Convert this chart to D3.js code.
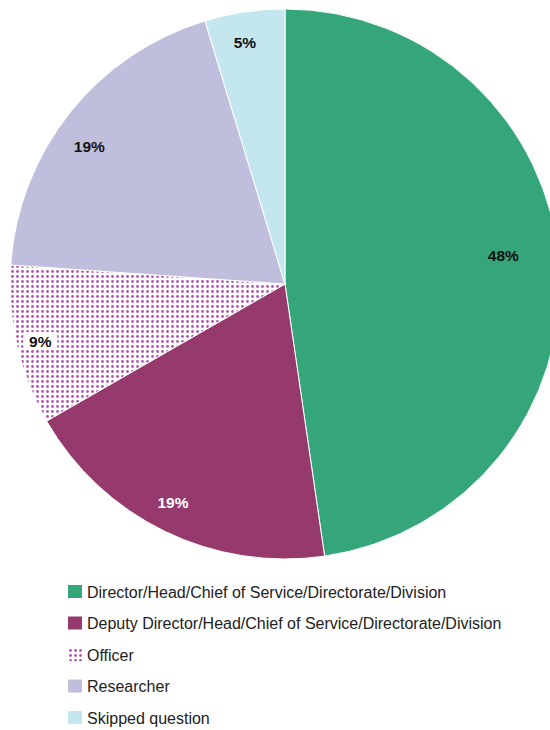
<!DOCTYPE html>
<html>
<head>
<meta charset="utf-8">
<script src="https://cdn.jsdelivr.net/npm/d3@7"></script>
<style>
  body { margin: 0; background: #fff; font-family: "Liberation Sans", Arial, sans-serif; }
</style>
</head>
<body>
<div id="chart"></div>
<script>
// data (shares, labels as printed)
const categories = [
  "Director/Head/Chief of Service/Directorate/Division",
  "Deputy Director/Head/Chief of Service/Directorate/Division",
  "Officer",
  "Researcher",
  "Skipped question"
];
const values = [47.7, 19.0, 9.4, 19.2, 4.7];
const labels = ["48%", "19%", "9%", "19%", "5%"];

const colors = ["#35a57a", "#963a6e", "url(#dots)", "#c0bedd", "#c3e6ef"];
const labelColors = ["#111", "#fff", "#111", "#111", "#111"];

const width = 550, height = 730;
const cx = 285, cy = 284, radius = 275;

const svg = d3.select("#chart").append("svg")
  .attr("width", width).attr("height", height);

// dotted pattern for Officer
const defs = svg.append("defs");
const pat = defs.append("pattern")
  .attr("id", "dots")
  .attr("patternUnits", "userSpaceOnUse")
  .attr("width", 5).attr("height", 5);
pat.append("rect").attr("width", 5).attr("height", 5).attr("fill", "#fff");
pat.append("circle").attr("cx", 2.5).attr("cy", 2.5).attr("r", 1.4).attr("fill", "#b155b1");

const data = categories.map((c, i) => ({ name: c, value: values[i], label: labels[i], i: i }));

const pie = d3.pie().sort(null).value(d => d.value);
const arc = d3.arc().innerRadius(0).outerRadius(radius);
const labelArc = d3.arc().innerRadius(245).outerRadius(245);

const g = svg.append("g").attr("transform", `translate(${cx},${cy})`);

g.selectAll(".slice")
  .data(pie(data))
  .enter()
  .append("path")
  .attr("class", "slice")
  .attr("d", arc)
  .attr("fill", d => colors[d.data.i])
  .attr("stroke", "#fff")
  .attr("stroke-width", 1);

// small label shifts, like the original's best-fit placement
const nudge = { 0: [-26, -11], 1: [-5, -2], 2: [-6, 2], 3: [-4, 15], 4: [-4, 1] };

const lab = g.selectAll(".lab")
  .data(pie(data))
  .enter()
  .append("g")
  .attr("class", "lab")
  .attr("transform", d => {
    const p = labelArc.centroid(d);
    const n = nudge[d.data.i] || [0, 0];
    return `translate(${p[0] + n[0]},${p[1] + n[1]})`;
  });

lab.filter(d => d.data.i === 2)
  .append("rect")
  .attr("x", -17).attr("y", -9).attr("width", 34).attr("height", 18)
  .attr("fill", "#fff");

lab.append("text")
  .attr("text-anchor", "middle")
  .attr("dy", "0.36em")
  .style("font-size", "15.5px")
  .style("font-weight", "bold")
  .style("fill", d => labelColors[d.data.i])
  .text(d => d.data.label);

// legend
const legend = svg.append("g").attr("transform", "translate(68,585)");
const rows = legend.selectAll(".row")
  .data(data)
  .enter()
  .append("g")
  .attr("class", "row")
  .attr("transform", (d, i) => `translate(0,${i * 31.5})`);

rows.append("rect")
  .attr("width", 14).attr("height", 13)
  .attr("fill", d => colors[d.i]);

rows.append("text")
  .attr("x", 19).attr("y", 7)
  .attr("dy", "0.35em")
  .style("font-size", "16px")
  .style("fill", "#222")
  .text(d => d.name);
</script>
</body>
</html>
